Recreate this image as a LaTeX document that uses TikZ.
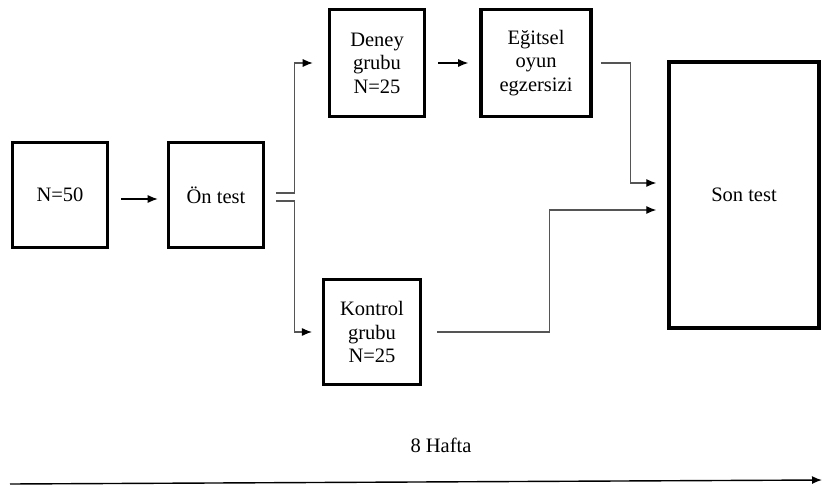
\documentclass[tikz,border=0pt]{standalone}
\usepackage{fontspec}
\setmainfont{Liberation Serif}
\definecolor{linegrey}{HTML}{555555}
\usetikzlibrary{arrows.meta, positioning, calc}

\begin{document}
\begin{tikzpicture}[
        x=0.03cm, y=-0.03cm,
        block/.style={rectangle, draw=black, line width=3pt, fill=white, align=center, minimum width=2.85cm, minimum height=3.15cm, font=\fontsize{17.5}{20}\selectfont},
        line/.style={draw, line width=0.9pt, color=linegrey, -{Latex[length=3mm, width=2.4mm, color=black]}},
        tip/.style={draw, line width=1pt, color=black, -{Latex[length=3mm, width=2.4mm]}}
    ]
        \useasboundingbox (0,0) rectangle (822,487);

        % Start: sample -> pre-test
        \node [block] (sample) at (60,195) {N=50};
        \node [block] (pretest) at (216,195) {Ön test};

        % Groups
        \node [block, minimum height=3.2cm] (exp) at (377,63) {Deney\\grubu\\N=25};
        \node [block, minimum width=3.3cm, minimum height=3.2cm] (game) at (536,63) {Eğitsel\\oyun\\egzersizi};
        \node [block, minimum width=2.9cm] (ctrl) at (372,332) {Kontrol\\grubu\\N=25};

        % Post-test
        \node [block, minimum width=4.5cm, minimum height=7.98cm] (posttest) at (744,195) {Son test};

        % Connections
        \draw [tip] ($(sample.east)+(12,4)$) -- ($(pretest.west)+(-9,4)$);
        \draw [line] ($(pretest.east)+(11,-2)$) -- ++(18,0) |- ($(exp.west)+(-15,0)$);
        \draw [line] ($(pretest.east)+(11,6)$) -- ++(18,0) |- ($(ctrl.west)+(-10,0)$);
        \draw [tip] ($(exp.east)+(12,0)$) -- ($(game.west)+(-11,0)$);

        % Into the post-test
        \draw [line] ($(game.east)+(8,0)$) -- ++(30,0) |- ($(posttest.west)+(-11,-12)$);
        \draw [line] ($(ctrl.east)+(15,0)$) -- ++(112,0) |- ($(posttest.west)+(-11,15)$);

        % Time line
        \node [font=\fontsize{17.5}{20}\selectfont] (weeks) at (441,445) {8 Hafta};
        \coordinate (tstart) at (10,484);
        \coordinate (tend) at (822,480);
        \draw [tip, line width=1.2pt] (tstart) -- (tend);

    \end{tikzpicture}
\end{document}
